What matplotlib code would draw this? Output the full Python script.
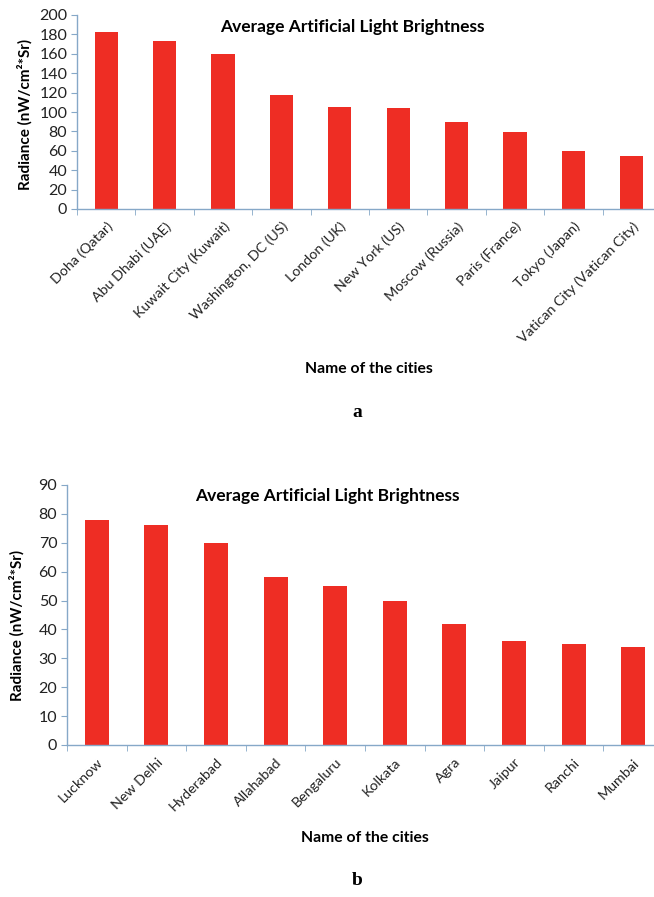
import matplotlib
matplotlib.use("Agg")
import matplotlib.pyplot as plt
import numpy as np

# Panel a: world cities
cities_a = ["Doha (Qatar)", "Abu Dhabi (UAE)", "Kuwait City (Kuwait)",
            "Washington, DC (US)", "London (UK)", "New York (US)",
            "Moscow (Russia)", "Paris (France)", "Tokyo (Japan)",
            "Vatican City (Vatican City)"]
radiance_a = [182, 173, 160, 118, 105, 104, 90, 79, 60, 55]
yticks_a = [0, 20, 40, 60, 80, 100, 120, 140, 160, 180, 200]

# Panel b: Indian cities
cities_b = ["Lucknow", "New Delhi", "Hyderabad", "Allahabad", "Bengaluru",
            "Kolkata", "Agra", "Jaipur", "Ranchi", "Mumbai"]
radiance_b = [78, 76, 70, 58, 55, 50, 42, 36, 35, 34]
yticks_b = [0, 10, 20, 30, 40, 50, 60, 70, 80, 90]

BAR_COLOR = "#EE2D24"
AXIS_COLOR = "#86A8C8"
FONT = "Lato"

plt.rcParams['font.family'] = [FONT, 'DejaVu Sans']

fig = plt.figure(figsize=(6.54, 8.97), dpi=100)


def draw_panel(ax, cats, vals, yticks):
    x = np.arange(len(cats))
    ax.bar(x, vals, width=0.40, color=BAR_COLOR, zorder=2)
    ax.set_xlim(-0.5, len(cats) - 0.5)
    ax.set_ylim(yticks[0], yticks[-1])
    ax.set_yticks(yticks)
    ax.tick_params(axis='y', direction='out', length=4, color=AXIS_COLOR,
                   labelsize=11.5, labelcolor='#222222', pad=3)
    # category labels at centres, tick marks between categories
    ax.set_xticks(x)
    ax.set_xticklabels(cats, rotation=45, ha='right', rotation_mode='anchor',
                       fontsize=10.3, color='#222222')
    ax.tick_params(axis='x', which='major', length=0, pad=8)
    ax.set_xticks(np.arange(len(cats) + 1) - 0.5, minor=True)
    ax.tick_params(axis='x', which='minor', direction='out', length=4,
                   color=AXIS_COLOR)
    for side in ['top', 'right']:
        ax.spines[side].set_visible(False)
    for side in ['left', 'bottom']:
        ax.spines[side].set_color(AXIS_COLOR)
        ax.spines[side].set_linewidth(1.0)


# panel a
ax_a = fig.add_axes([77 / 654, 1 - 209 / 897, 584 / 654, 194 / 897])
draw_panel(ax_a, cities_a, radiance_a, yticks_a)
fig.text(352 / 654, 1 - 27 / 897, "Average Artificial Light Brightness",
         ha='center', va='center', fontsize=12.5, fontweight='bold')
fig.text(25 / 654, 1 - 114 / 897, "Radiance (nW/cm²*Sr)", rotation=90,
         ha='center', va='center', fontsize=11, fontweight='bold')
fig.text(369 / 654, 1 - 369 / 897, "Name of the cities", ha='center',
         va='center', fontsize=11.3, fontweight='bold')
fig.text(357 / 654, 1 - 412 / 897, "a", ha='center', va='center',
         fontsize=14, fontweight='bold', family='Liberation Serif')

# panel b
ax_b = fig.add_axes([67 / 654, 1 - 745 / 897, 596 / 654, 260 / 897])
draw_panel(ax_b, cities_b, radiance_b, yticks_b)
fig.text(327 / 654, 1 - 496 / 897, "Average Artificial Light Brightness",
         ha='center', va='center', fontsize=12.5, fontweight='bold')
fig.text(17 / 654, 1 - 625 / 897, "Radiance (nW/cm²*Sr)", rotation=90,
         ha='center', va='center', fontsize=11, fontweight='bold')
fig.text(365 / 654, 1 - 838 / 897, "Name of the cities", ha='center',
         va='center', fontsize=11.3, fontweight='bold')
fig.text(357 / 654, 1 - 880 / 897, "b", ha='center', va='center',
         fontsize=14, fontweight='bold', family='Liberation Serif')

fig.savefig("out.png", dpi=100)
